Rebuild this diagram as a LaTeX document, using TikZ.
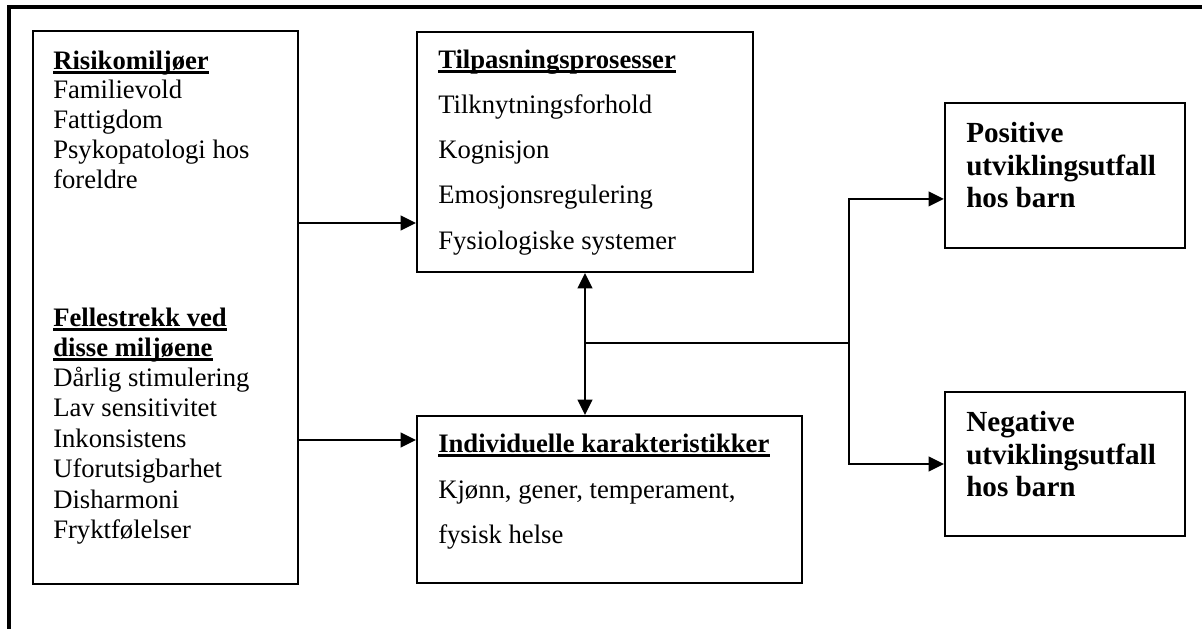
\documentclass[tikz,border=0pt]{standalone}
\usepackage{fontspec}
\setmainfont{Liberation Serif}
\usetikzlibrary{arrows.meta,fit,calc}
\begin{document}
\begin{tikzpicture}[x=0.75pt,y=-0.75pt,
 box/.style={draw, line width=1.6pt, inner sep=0pt},
 txt/.style={inner sep=0pt, anchor=base west, font=\fontsize{20}{22}\selectfont},
 hd/.style={inner sep=0pt, anchor=base west, font=\fontsize{20}{22}\selectfont\bfseries},
 big/.style={inner sep=0pt, anchor=base west, font=\fontsize{21.875}{25}\selectfont\bfseries},
 conn/.style={line width=1.6pt},
 arr/.style={conn, -{Triangle[length=11.5pt,width=11pt]}},
 arr2/.style={conn, {Triangle[length=11.5pt,width=11pt]}-{Triangle[length=11.5pt,width=11pt]}},
 ul/.style={line width=1.8pt}]
\useasboundingbox (0,0) rectangle (1202,628);
% outer frame
\draw[line width=2.4pt] (9,640) -- (9,7) -- (1210,7);
% boxes
\node[box, fit={(33,31) (298,584)}] (left) {};
\node[box, fit={(417,32) (753,272)}] (tp) {};
\node[box, fit={(417,416) (802,583)}] (ib) {};
\node[box, fit={(945,103) (1185,248)}] (pos) {};
\node[box, fit={(945,392) (1185,536)}] (neg) {};
% left box text
\node[hd] (h1) at (53,69) {Risikomiljøer};
\node[txt] (t1) at (53,98) {Familievold};
\node[txt] (t2) at (53,128) {Fattigdom};
\node[txt] (t3) at (53,158) {Psykopatologi hos};
\node[txt] (t4) at (53,188) {foreldre};
\node[hd] (h2) at (53,326) {Fellestrekk ved};
\node[hd] (h3) at (53,356) {disse miljøene};
\node[txt] (t5) at (53,386) {Dårlig stimulering};
\node[txt] (t6) at (53,416) {Lav sensitivitet};
\node[txt] (t7) at (53,447) {Inkonsistens};
\node[txt] (t8) at (53,477) {Uforutsigbarhet};
\node[txt] (t9) at (53,508) {Disharmoni};
\node[txt] (t10) at (53,538) {Fryktfølelser};
% top middle
\node[hd] (h4) at (438,68) {Tilpasningsprosesser};
\node[txt] (m1) at (438,113) {Tilknytningsforhold};
\node[txt] (m2) at (438,158) {Kognisjon};
\node[txt] (m3) at (438,203) {Emosjonsregulering};
\node[txt] (m4) at (438,249) {Fysiologiske systemer};
% bottom middle
\node[hd] (h5) at (438,452) {Individuelle karakteristikker};
\node[txt] (b1) at (438,498) {Kjønn, gener, temperament,};
\node[txt] (b2) at (438,543) {fysisk helse};
% right boxes
\node[big] (p1) at (966,142) {Positive};
\node[big] (p2) at (966,175) {utviklingsutfall};
\node[big] (p3) at (966,207) {hos barn};
\node[big] (n1) at (966,431) {Negative};
\node[big] (n2) at (966,464) {utviklingsutfall};
\node[big] (n3) at (966,496) {hos barn};
% underlines
\foreach \h in {h1,h2,h3,h4,h5}
  \draw[ul] ([yshift=-2.6pt]\h.base west) -- ([yshift=-2.6pt]\h.base east);
% connectors
\coordinate (a1) at (298,223);
\coordinate (a2) at (298,440);
\draw[arr] (left.east |- a1) -- (tp.west |- a1);
\draw[arr] (left.east |- a2) -- (ib.west |- a2);
\draw[arr2] (tp.south) -- (ib.north -| tp.south);
\coordinate (j) at (585,343);
\coordinate (k) at (849,343);
\draw[conn] (j) -- (k);
\draw[arr] (k) |- ($(pos.north west)+(0,97)$);
\draw[arr] (k) |- (neg.west);
\end{tikzpicture}
\end{document}
